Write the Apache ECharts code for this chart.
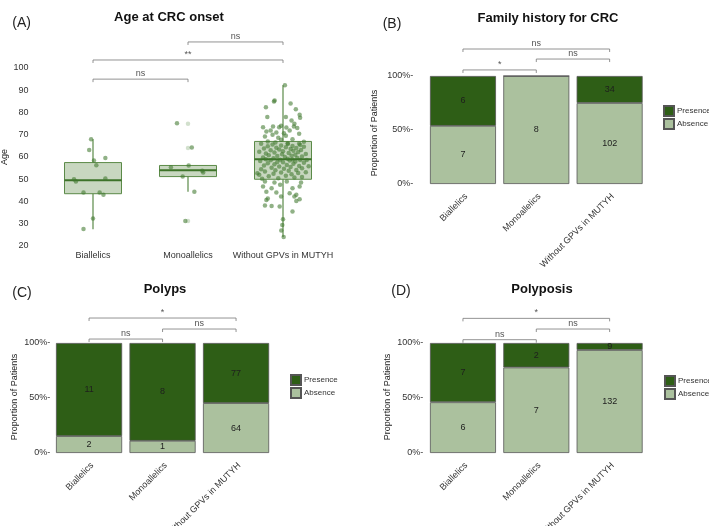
<!DOCTYPE html>
<html>
<head>
<meta charset="utf-8">
<script src="https://cdn.jsdelivr.net/npm/echarts@6/dist/echarts.min.js"></script>
<style>
  html, body { margin: 0; padding: 0; background: #fff; }
  #chart { width: 709px; height: 526px; }
</style>
</head>
<body>
<div id="chart"></div>
<script>
// ---- data ----
const groups = ['Biallelics', 'Monoallelics', 'Without GPVs in MUTYH'];

// age at onset: [min, Q1, median, Q3, max] per group
const ageBoxStats = [
  [27.5, 43.5, 49.5, 57.5, 68],
  [44.4, 51.2, 54, 56.2, 56.2],
  [24, 50, 59, 67, 92.3]
];
// boxplot outliers [group, age]
const ageOutliers = [[1, 75], [1, 64], [1, 31.2]];

// jittered points: [horizontal offset, age]
const ageBiallelics = [
  [-0.02, 68], [-0.04, 63.2], [0.01, 58.4], [0.035, 56.3], [0.13, 59.6],
  [-0.2, 50], [-0.18, 49], [0.13, 50.3], [-0.1, 44.1], [0.07, 44],
  [0.11, 43], [0, 32.4], [-0.1, 27.6]
];
const ageMonoallelics = [
  [-0.116, 75.2], [0.04, 64.3], [0.007, 56.2], [-0.18, 55.4], [-0.056, 51.2],
  [0.15, 53.8], [0.16, 53], [0.067, 44.4], [-0.028, 31.2]
];
const ageWithout = [
  [0.02, 92.3], [-0.095, 85], [-0.088, 85.4], [-0.18, 82.4], [0.08, 84], [0.135, 81.5],
  [-0.165, 78], [0.175, 79], [0.18, 77.6], [0.03, 78], [0.09, 76.4], [0.12, 75],
  [-0.21, 73.4], [-0.105, 73.7], [-0.04, 73.4], [-0.02, 74], [0.035, 73.3], [0.115, 73.7], [0.15, 73],
  [-0.175, 71.5], [-0.13, 71.9], [-0.07, 71], [0.01, 70.7], [0.07, 71.9], [0.17, 70.4],
  [-0.19, 69.2], [-0.11, 70], [-0.05, 68.6], [0.03, 69.5], [0.1, 68],
  [-0.16, 67], [-0.08, 66.5], [-0.02, 67.7], [0.05, 66.2], [0.17, 65.9], [0.22, 66.8],
  [0.05, 59.2], [-0.1, 59.4], [0.15, 59.6], [-0.21, 59.8], [0.02, 60], [0.2, 60.2],
  [-0.06, 60.4], [0.09, 60.6], [-0.15, 60.8], [0.13, 61], [-0.01, 61.2], [0.24, 61.4],
  [-0.18, 61.6], [0.06, 61.8], [-0.09, 62], [0.16, 62.2], [-0.25, 62.4], [0, 62.6],
  [0.11, 62.8], [-0.13, 63], [0.19, 63.2], [-0.04, 63.4], [0.08, 63.6], [-0.2, 63.8],
  [0.14, 64], [-0.07, 64.2], [0.03, 64.4], [0.22, 64.6], [-0.16, 64.8], [0.1, 65],
  [-0.02, 65.2], [0.18, 65.4], [-0.11, 65.6], [0.05, 65.8], [-0.23, 66],
  [-0.22, 50.2], [-0.05, 50.5], [0.12, 50.8], [0.2, 51], [-0.15, 51.3], [0.03, 51.6],
  [-0.25, 52], [0.09, 52.2], [-0.1, 52.5], [0.16, 52.8], [-0.02, 53], [0.24, 53.2],
  [-0.19, 53.5], [0.06, 53.8], [-0.08, 54], [0.14, 54.2], [-0.23, 54.5], [0.01, 54.7],
  [0.2, 55], [-0.12, 55.2], [0.08, 55.5], [-0.04, 55.7], [0.17, 56], [-0.2, 56.2],
  [0.04, 56.4], [-0.09, 56.7], [0.11, 57], [-0.16, 57.2], [0.22, 57.4], [0, 57.6],
  [-0.06, 57.8], [0.13, 58], [-0.24, 58.2], [0.07, 58.4], [-0.13, 58.5], [0.18, 58.7],
  [-0.03, 58.8], [0.1, 58.9], [-0.18, 59], [0.25, 58.6], [0.27, 55.8], [-0.27, 52.7],
  [-0.19, 49], [-0.09, 48.5], [0.04, 49], [0.19, 48.5], [-0.21, 46.7], [-0.12, 46],
  [-0.03, 47.5], [0.1, 46], [0.175, 46.7], [-0.175, 44.4], [-0.07, 44], [0.07, 43.7],
  [0.14, 43], [-0.16, 41.4], [-0.02, 42.2], [0.12, 42.2], [-0.175, 40.7], [0.14, 40.2],
  [0.175, 41], [-0.19, 38.2], [-0.12, 38], [-0.035, 37.7], [0.1, 35.5],
  [0, 32], [-0.007, 29.4], [-0.018, 27], [0.007, 24]
];

// counts per group
const familyPresence = [6, 0, 34];
const familyAbsence = [7, 8, 102];
const polypsPresence = [11, 8, 77];
const polypsAbsence = [2, 1, 64];
const polyposisPresence = [7, 2, 9];
const polyposisAbsence = [6, 7, 132];

// significance brackets: [from group, to group, height, label]
const bracketsAge = [[0, 1, 95, 'ns'], [0, 2, 103.6, '**'], [1, 2, 111.7, 'ns']];
const bracketsFamily = [[0, 1, 105.6, '*'], [1, 2, 115.7, 'ns'], [0, 2, 125, 'ns']];
const bracketsPolyps = [[0, 1, 103.6, 'ns'], [1, 2, 112.7, 'ns'], [0, 2, 122.7, '*']];
const bracketsPolyposis = [[0, 1, 103, 'ns'], [1, 2, 112.7, 'ns'], [0, 2, 122.4, '*']];

// ---- styles ----
const FONT = '"Liberation Sans", Arial, sans-serif';
const DARK = '#2e5e16';
const LIGHT = '#abc19e';
const TXT = '#333';

function bracketSeries(list, xi, yi) {
  return {
    type: 'custom', xAxisIndex: xi, yAxisIndex: yi, silent: true, z: 5,
    data: list.map(b => [b[0], b[1], b[2]]),
    encode: { x: [0, 1], y: 2 },
    renderItem(params, api) {
      const b = list[params.dataIndex];
      const p1 = api.coord([b[0], b[2]]);
      const p2 = api.coord([b[1], b[2]]);
      return {
        type: 'group',
        children: [
          {
            type: 'polyline',
            shape: { points: [[p1[0], p1[1] + 3], p1, p2, [p2[0], p2[1] + 3]] },
            style: { stroke: '#777', lineWidth: 0.8, fill: null }
          },
          {
            type: 'text', x: (p1[0] + p2[0]) / 2, y: p1[1] - 1,
            style: { text: b[3], fill: '#555', fontSize: 9, fontFamily: FONT, align: 'center', verticalAlign: 'bottom' }
          }
        ]
      };
    }
  };
}

function barPair(pres, abs, xi, yi) {
  const total = pres.map((p, i) => p + abs[i]);
  const mk = arr => arr.map((v, i) => ({ value: v / total[i] * 100, count: v }));
  const label = {
    show: true, position: 'inside', fontSize: 9, fontFamily: FONT, color: '#1e1e1e',
    formatter: p => (p.data.count ? String(p.data.count) : '')
  };
  const common = { type: 'bar', stack: 'st' + xi, xAxisIndex: xi, yAxisIndex: yi, barCategoryGap: '10%', label };
  return [
    Object.assign({ name: 'Absence', data: mk(abs), itemStyle: { color: LIGHT, borderColor: '#555', borderWidth: 0.8 } }, common),
    Object.assign({ name: 'Presence', data: mk(pres), itemStyle: { color: DARK, borderColor: '#555', borderWidth: 0.8 } }, common)
  ];
}

function catAxis(gi, rotate) {
  return {
    type: 'category', gridIndex: gi, data: groups,
    axisLine: { show: false }, axisTick: { show: false },
    axisLabel: {
      fontSize: 9, fontFamily: FONT, color: TXT, rotate: rotate, interval: 0,
      margin: rotate ? 8 : 5, verticalAlign: rotate ? 'top' : undefined
    }
  };
}

function pctAxis(gi, margin) {
  return {
    type: 'value', gridIndex: gi, min: 0, max: 130, interval: 50,
    splitLine: { show: false }, axisLine: { show: false }, axisTick: { show: false },
    axisLabel: { fontSize: 9, fontFamily: FONT, color: TXT, margin: margin, formatter: v => (v <= 100 ? v + '%-' : '') }
  };
}

function legendAt(left, top) {
  return {
    data: ['Presence', 'Absence'], orient: 'vertical', left: left, top: top, padding: 0,
    itemWidth: 10, itemHeight: 10, itemGap: 1, icon: 'rect', selectedMode: false,
    textStyle: { fontSize: 8, fontFamily: FONT, color: TXT, padding: [0, 0, 0, -2] }
  };
}

function text(x, y, str, size, bold, rot) {
  return {
    type: 'text', x: x, y: y, rotation: rot || 0,
    style: { text: str, fontSize: size, fontWeight: bold ? 'bold' : 'normal', fontFamily: FONT, fill: bold ? '#111' : '#222', align: 'center', verticalAlign: 'middle' }
  };
}

const jitter = (pts, gi) => pts.map(p => [gi + p[0], p[1]]);

const chart = echarts.init(document.getElementById('chart'), null, { renderer: 'canvas' });
chart.setOption({
  animation: false,
  backgroundColor: '#fff',
  grid: [
    { left: 45.5, top: 23.5, width: 285, height: 222.5, outerBoundsMode: 'none' },
    { left: 426.3, top: 43.6, width: 220, height: 140.4, outerBoundsMode: 'none' },
    { left: 52.3, top: 310, width: 220.5, height: 143, outerBoundsMode: 'none' },
    { left: 426.3, top: 310, width: 220, height: 143, outerBoundsMode: 'none' }
  ],
  xAxis: [
    catAxis(0, 0),
    { type: 'value', gridIndex: 0, min: -0.5, max: 2.5, show: false },
    catAxis(1, 45),
    catAxis(2, 45),
    catAxis(3, 45)
  ],
  yAxis: [
    {
      type: 'value', gridIndex: 0, min: 20, max: 120, interval: 10,
      splitLine: { show: false }, axisLine: { show: false }, axisTick: { show: false },
      axisLabel: { fontSize: 9, fontFamily: FONT, color: TXT, margin: 17, formatter: v => (v <= 100 ? String(v) : '') }
    },
    pctAxis(1, 13),
    pctAxis(2, 2),
    pctAxis(3, 3)
  ],
  legend: [legendAt(663, 105), legendAt(290, 374), legendAt(664, 375)],
  graphic: [
    text(21.7, 23, '(A)', 14, false),
    text(169, 17, 'Age at CRC onset', 13, true),
    text(392, 24, '(B)', 14, false),
    text(548, 18, 'Family history for CRC', 13, true),
    text(22, 293, '(C)', 14, false),
    text(165, 289, 'Polyps', 13, true),
    text(401, 291, '(D)', 14, false),
    text(542, 289, 'Polyposis', 13, true),
    text(5, 157, 'Age', 9, false, Math.PI / 2),
    text(375, 133, 'Proportion of Patients', 9, false, Math.PI / 2),
    text(15, 397, 'Proportion of Patients', 9, false, Math.PI / 2),
    text(388, 397, 'Proportion of Patients', 9, false, Math.PI / 2)
  ],
  series: [
    {
      type: 'custom', xAxisIndex: 0, yAxisIndex: 0, silent: true, z: 2,
      data: ageBoxStats.map((s, i) => [i, s[0], s[4]]),
      encode: { x: 0, y: [1, 2] },
      renderItem(params, api) {
        const i = params.dataIndex;
        const s = ageBoxStats[i];
        const pMin = api.coord([i, s[0]]);
        const pQ1 = api.coord([i, s[1]]);
        const pMed = api.coord([i, s[2]]);
        const pQ3 = api.coord([i, s[3]]);
        const pMax = api.coord([i, s[4]]);
        const half = api.size([1, 0])[0] * 0.3;
        const cx = pMed[0];
        const stroke = '#5b8a48';
        return {
          type: 'group',
          children: [
            { type: 'line', shape: { x1: cx, y1: pQ3[1], x2: cx, y2: pMax[1] }, style: { stroke: stroke, lineWidth: 1.2 } },
            { type: 'line', shape: { x1: cx, y1: pMin[1], x2: cx, y2: pQ1[1] }, style: { stroke: stroke, lineWidth: 1.2 } },
            { type: 'rect', shape: { x: cx - half, y: pQ3[1], width: 2 * half, height: pQ1[1] - pQ3[1] }, style: { fill: 'rgba(110,150,90,0.38)', stroke: stroke, lineWidth: 1 } },
            { type: 'line', shape: { x1: cx - half, y1: pMed[1], x2: cx + half, y2: pMed[1] }, style: { stroke: '#3d7329', lineWidth: 2 } }
          ]
        };
      }
    },
    {
      type: 'scatter', xAxisIndex: 1, yAxisIndex: 0, silent: true, z: 3,
      data: ageOutliers, symbolSize: 4.5,
      itemStyle: { color: 'rgba(95,145,75,0.35)' }
    },
    {
      type: 'scatter', xAxisIndex: 1, yAxisIndex: 0, silent: true, z: 4,
      data: jitter(ageBiallelics, 0).concat(jitter(ageMonoallelics, 1), jitter(ageWithout, 2)),
      symbolSize: 4.5,
      itemStyle: { color: 'rgba(62,120,45,0.72)' }
    },
    bracketSeries(bracketsAge, 1, 0),
    ...barPair(familyPresence, familyAbsence, 2, 1),
    bracketSeries(bracketsFamily, 2, 1),
    ...barPair(polypsPresence, polypsAbsence, 3, 2),
    bracketSeries(bracketsPolyps, 3, 2),
    ...barPair(polyposisPresence, polyposisAbsence, 4, 3),
    bracketSeries(bracketsPolyposis, 4, 3)
  ]
});
</script>
</body>
</html>
